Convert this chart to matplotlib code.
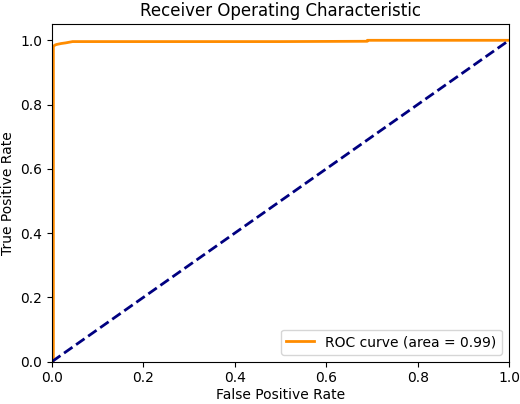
import matplotlib
matplotlib.use("Agg")
import matplotlib.pyplot as plt

# ROC curve points
fpr = [0.0, 0.003, 0.003, 0.006, 0.01, 0.02, 0.03, 0.045, 0.2, 0.5, 0.69, 0.69, 0.8, 1.0]
tpr = [0.0, 0.0, 0.98, 0.985, 0.987, 0.99, 0.992, 0.996, 0.996, 0.996, 0.997, 1.0, 1.0, 1.0]
roc_auc = 0.99

fig = plt.figure(figsize=(5.2, 4.04), dpi=100)
ax = fig.add_axes([0.1, 0.105, 0.879, 0.835])
ax.plot(fpr, tpr, color="darkorange", lw=2, label=f"ROC curve (area = {roc_auc:.2f})")
ax.plot([0, 1], [0, 1], color="navy", lw=2, linestyle="--")
ax.set_xlim(0.0, 1.0)
ax.set_ylim(0.0, 1.05)
ax.set_xlabel("False Positive Rate", labelpad=2)
ax.set_ylabel("True Positive Rate")
ax.set_title("Receiver Operating Characteristic")
ax.legend(loc="lower right")
fig.savefig("out.png", dpi=100)
